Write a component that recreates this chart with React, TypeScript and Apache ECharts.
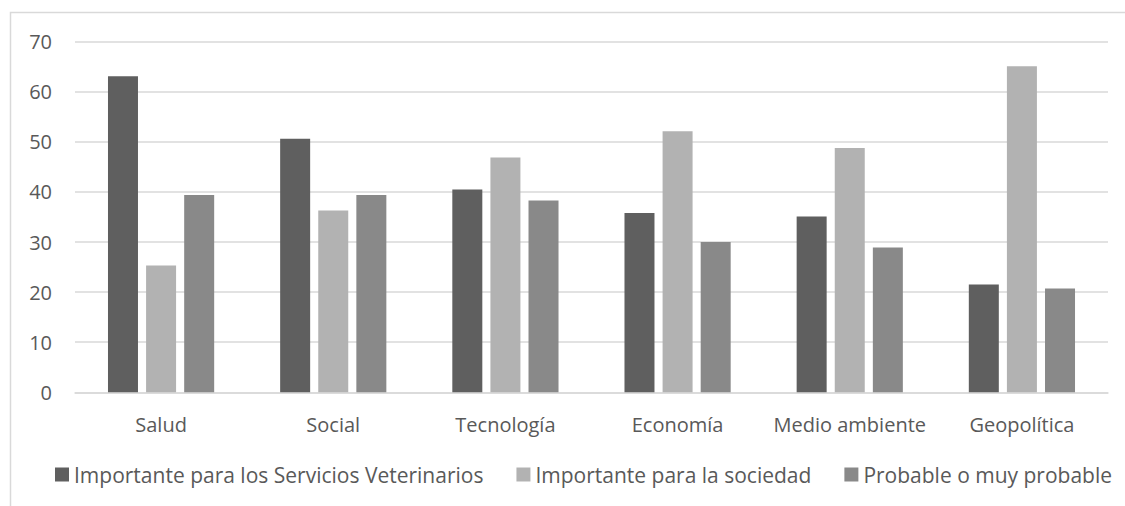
import React, { useEffect, useRef } from "react";
import * as echarts from "echarts";

const categories = ["Salud", "Social", "Tecnología", "Economía", "Medio ambiente", "Geopolítica"];
const seriesNames = [
  "Importante para los Servicios Veterinarios",
  "Importante para la sociedad",
  "Probable o muy probable",
];
const serviciosVeterinarios = [63.1, 50.6, 40.5, 35.8, 35.1, 21.5];
const sociedad = [25.3, 36.3, 46.9, 52.1, 48.8, 65.1];
const probable = [39.4, 39.4, 38.3, 30.0, 28.9, 20.7];
const colors = ["#5f5f5f", "#b2b2b2", "#898989"];

export default function App() {
  const ref = useRef<HTMLDivElement>(null);
  useEffect(() => {
    document.body.style.margin = "0";
    if (!ref.current) return;
    const chart = echarts.init(ref.current, undefined, { renderer: "svg" });
    const font = "'Open Sans', sans-serif";
    const dataSets = [serviciosVeterinarios, sociedad, probable];
    chart.setOption({
      animation: false,
      backgroundColor: "#ffffff",
      textStyle: { fontFamily: font },
      graphic: [
        {
          type: "rect",
          shape: { x: 10.5, y: 12.5, width: 1200, height: 600 },
          style: { fill: "none", stroke: "#d9d9d9", lineWidth: 1.5 },
          silent: true,
        },
      ],
      grid: { left: 75, right: 17, top: 41.7, bottom: 113.7, containLabel: false },
      legend: {
        left: 55,
        top: 464,
        padding: 0,
        itemWidth: 14,
        itemHeight: 14,
        itemGap: 33,
        icon: "rect",
        textStyle: { color: "#595959", fontSize: 21, fontFamily: font },
        data: seriesNames,
      },
      xAxis: {
        type: "category",
        data: categories,
        axisTick: { show: false },
        axisLine: { lineStyle: { color: "#d9d9d9", width: 1.5 } },
        axisLabel: { color: "#595959", fontSize: 20, fontFamily: font, margin: 22, interval: 0 },
      },
      yAxis: {
        type: "value",
        min: 0,
        max: 70,
        interval: 10,
        axisLine: { show: false },
        axisTick: { show: false },
        splitLine: { lineStyle: { color: "#d9d9d9", width: 1.5 } },
        axisLabel: { color: "#595959", fontSize: 20, fontFamily: font, margin: 23 },
      },
      series: seriesNames.map((name, i) => ({
        name,
        type: "bar",
        data: dataSets[i],
        barWidth: 30,
        barGap: "27%",
        itemStyle: { color: colors[i] },
      })),
    });
    return () => chart.dispose();
  }, []);
  return <div ref={ref} style={{ width: 1125, height: 506 }} />;
}
